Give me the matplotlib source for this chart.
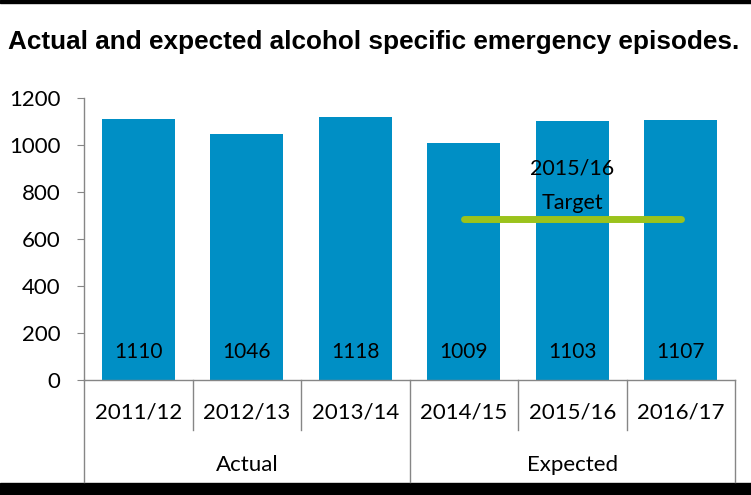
import matplotlib.pyplot as plt
from matplotlib.patches import Rectangle
from matplotlib.lines import Line2D
from matplotlib.transforms import blended_transform_factory

years = ['2011/12', '2012/13', '2013/14', '2014/15', '2015/16', '2016/17']
episodes = [1110, 1046, 1118, 1009, 1103, 1107]
groups = ['Actual', 'Expected']
group_sizes = [3, 3]
target_value = 685
target_span = [3, 5]
target_label = '2015/16\nTarget'

label_font = 'Lato'
grey = '#868686'

fig = plt.figure(figsize=(7.51, 4.95), dpi=100)
ax = fig.add_axes([0.1119, 0.2323, 0.8668, 0.5697])

x = list(range(len(years)))
ax.bar(x, episodes, width=0.67, color='#008FC5', zorder=2)
for xi, v in zip(x, episodes):
    ax.text(xi, 120, str(v), ha='center', va='center', fontsize=15,
            family=label_font, color='black', zorder=3)

ax.plot(target_span, [target_value, target_value], color='#9BC31C', lw=5,
        solid_capstyle='round', zorder=4)
ax.text(4, 825, target_label, ha='center', va='center', fontsize=15.5,
        family=label_font, linespacing=1.9, zorder=5)

ax.set_xlim(-0.5, len(years) - 0.5)
ax.set_ylim(0, 1200)
ax.set_yticks(range(0, 1201, 200))
ax.set_xticks([])
for s in ['top', 'right']:
    ax.spines[s].set_visible(False)
for s in ['left', 'bottom']:
    ax.spines[s].set_color(grey)
    ax.spines[s].set_linewidth(1)
ax.tick_params(axis='y', length=5, color=grey, pad=12, labelsize=16)
for lab in ax.get_yticklabels():
    lab.set_family(label_font)

# category axis: year labels, group labels and separators
tr = blended_transform_factory(ax.transData, fig.transFigure)
y_axis = 0.2323
for i, yr in enumerate(years):
    ax.text(i, 0.1657, yr, transform=tr, ha='center', va='center',
            fontsize=16, family=label_font)
bounds = [-0.5]
for n in group_sizes:
    bounds.append(bounds[-1] + n)
for i in range(len(years) + 1):
    xb = i - 0.5
    y_end = 0.0263 if xb in bounds else 0.1313
    fig.add_artist(Line2D([xb, xb], [y_axis, y_end], transform=tr,
                          color=grey, lw=1))
for g, a, b in zip(groups, bounds[:-1], bounds[1:]):
    ax.text((a + b) / 2, 0.0606, g, transform=tr, ha='center', va='center',
            fontsize=16, family=label_font)

fig.text(0.0107, 0.915, 'Actual and expected alcohol specific emergency episodes.',
         fontsize=18.8, fontweight='bold', family='Liberation Sans', va='center')

# black frame lines top and bottom
fig.add_artist(Rectangle((0, 0.994), 1, 0.006, transform=fig.transFigure,
                         color='black'))
fig.add_artist(Rectangle((0, 0), 1, 0.024, transform=fig.transFigure,
                         color='black'))

fig.savefig('out.png', dpi=100)
